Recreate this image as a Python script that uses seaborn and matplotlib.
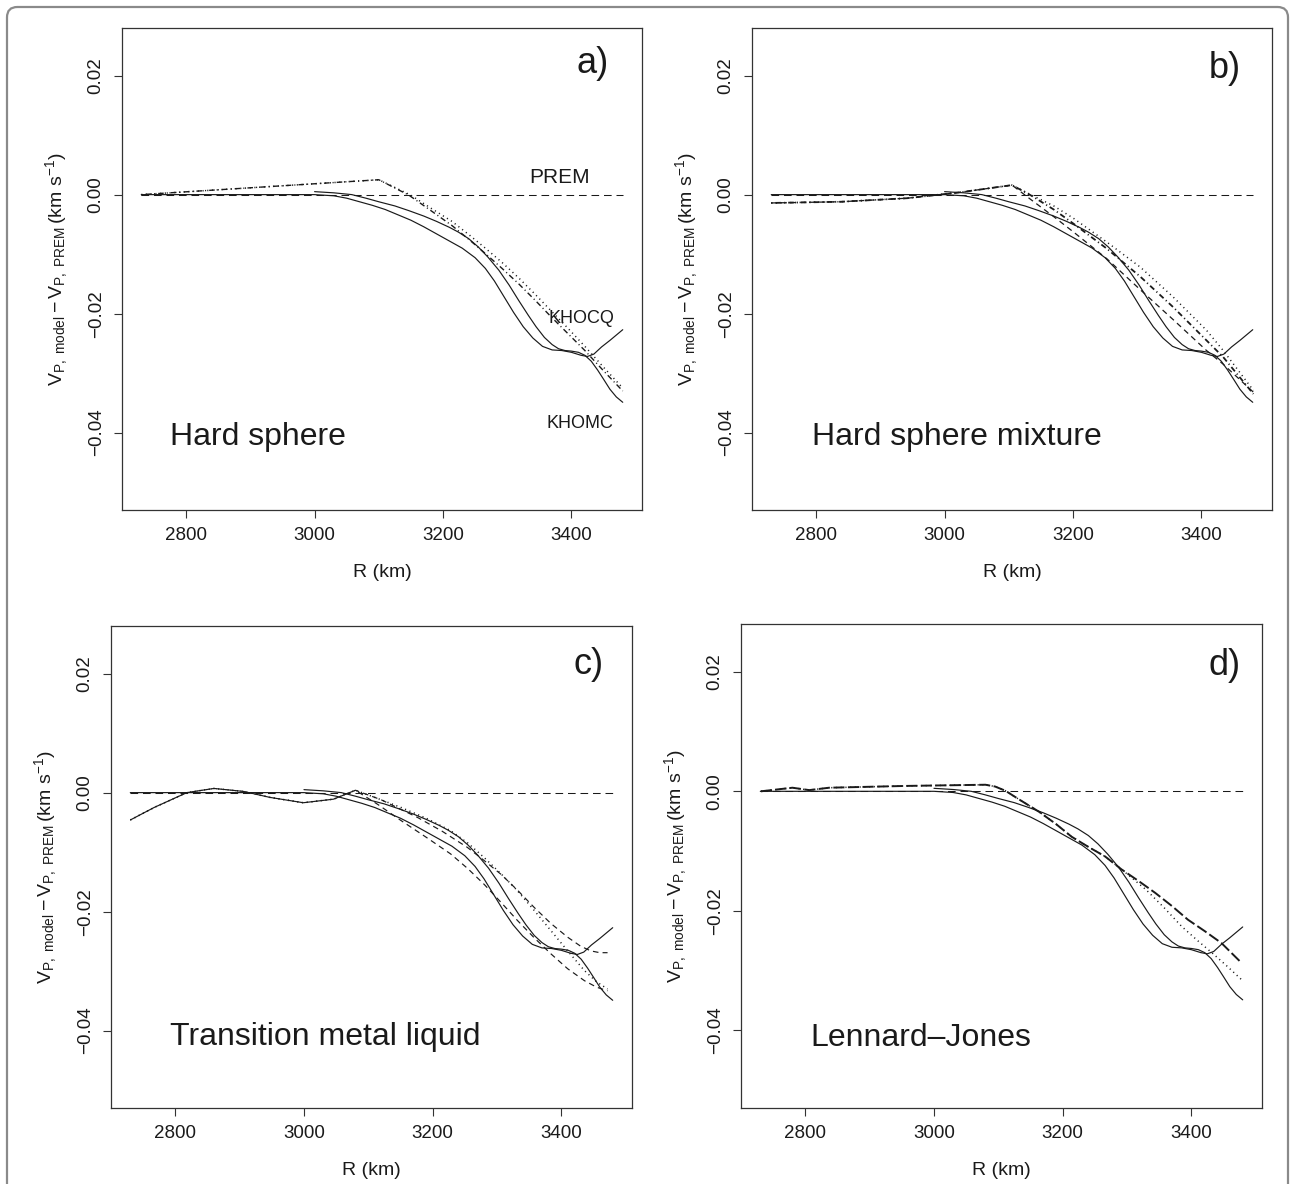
import numpy as np
import pandas as pd
import matplotlib
matplotlib.use("Agg")
import matplotlib.pyplot as plt
import seaborn as sns
from matplotlib.patches import FancyBboxPatch

sns.set_theme(style="ticks")
plt.rcParams['font.family'] = ['Liberation Sans', 'DejaVu Sans']
plt.rcParams['mathtext.fontset'] = 'custom'
plt.rcParams['mathtext.rm'] = 'Liberation Sans'
plt.rcParams['mathtext.it'] = 'Liberation Sans:italic'
plt.rcParams['mathtext.bf'] = 'Liberation Sans:bold'
plt.rcParams['lines.scale_dashes'] = False

# ---------------- data ----------------
prem_r = [2730, 3480]
prem_v = [0.0, 0.0]

khocq_r = [2730, 2800, 2900, 3000, 3030, 3050, 3070, 3090, 3110, 3130, 3150, 3170, 3190,
           3210, 3230, 3250, 3266, 3280, 3297, 3310, 3325, 3340, 3355, 3370, 3385, 3400,
           3415, 3425, 3435, 3447, 3460, 3480]
khocq_v = [0.0, 0.0, 0.0, 0.0, -0.0002, -0.0006, -0.0012, -0.0018, -0.0025, -0.0034,
           -0.0043, -0.0054, -0.0066, -0.0078, -0.0090, -0.0106, -0.0124, -0.0145, -0.0175,
           -0.0198, -0.0222, -0.0241, -0.0255, -0.0261, -0.0262, -0.0265, -0.0270, -0.0272,
           -0.0268, -0.0256, -0.0245, -0.0227]

khomc_r = [3000, 3030, 3058, 3080, 3100, 3125, 3147, 3170, 3190, 3210, 3224, 3240, 3255,
           3270, 3287, 3303, 3318, 3333, 3345, 3358, 3370, 3380, 3390, 3400, 3411, 3421,
           3431, 3441, 3450, 3460, 3470, 3480]
khomc_v = [0.0005, 0.0003, 0.0, -0.0006, -0.0012, -0.0019, -0.0027, -0.0036, -0.0045,
           -0.0055, -0.0063, -0.0074, -0.0088, -0.0105, -0.0127, -0.0152, -0.0178, -0.0203,
           -0.0222, -0.0240, -0.0252, -0.0259, -0.0262, -0.0263, -0.0265, -0.0270, -0.0280,
           -0.0295, -0.0310, -0.0327, -0.0340, -0.0349]

# panel a: hard sphere
a_dotdash_r = [2730, 3100, 3147, 3180, 3214, 3240, 3266, 3292, 3318, 3344, 3369, 3395, 3421, 3450, 3480]
a_dotdash_v = [0.0, 0.0025, -0.0001, -0.0026, -0.0052, -0.0075, -0.0099, -0.0124, -0.0150,
               -0.0178, -0.0206, -0.0234, -0.0262, -0.0296, -0.0330]
a_dot_r = [2730, 3100, 3150, 3180, 3214, 3240, 3266, 3292, 3318, 3344, 3369, 3395, 3421, 3450, 3480]
a_dot_v = [0.0, 0.0025, -0.0001, -0.0022, -0.0045, -0.0067, -0.0090, -0.0114, -0.0140,
           -0.0168, -0.0196, -0.0225, -0.0255, -0.0290, -0.0325]

# panel b: hard sphere mixture
b_dotdash_r = [2730, 2838, 2942, 3025, 3105, 3134, 3170, 3201, 3253, 3305, 3356, 3408, 3434, 3481]
b_dotdash_v = [-0.0014, -0.0012, -0.0006, 0.0004, 0.0016, -0.0001, -0.0025, -0.0049, -0.0091,
               -0.0138, -0.0189, -0.0245, -0.0273, -0.0335]
b_dash_r = [2730, 2838, 2942, 3025, 3105, 3134, 3170, 3201, 3253, 3305, 3356, 3408, 3434, 3481]
b_dash_v = [-0.0014, -0.0012, -0.0006, 0.0004, 0.0016, -0.0008, -0.0037, -0.0063, -0.0108,
            -0.0160, -0.0210, -0.0262, -0.0285, -0.0332]
b_dot_r = [2730, 2838, 2942, 3025, 3105, 3134, 3170, 3201, 3253, 3305, 3356, 3408, 3434, 3481]
b_dot_v = [-0.0014, -0.0012, -0.0006, 0.0004, 0.0016, 0.0000, -0.0019, -0.0040, -0.0080,
           -0.0122, -0.0172, -0.0228, -0.0262, -0.0329]

# panel c: transition metal liquid
c_dot_r = [2730, 2767, 2818, 2860, 2906, 2947, 2999, 3046, 3080, 3115, 3151, 3190, 3228,
           3255, 3280, 3306, 3332, 3358, 3384, 3410, 3436, 3455, 3472]
c_dot_v = [-0.0046, -0.0025, 0.0, 0.0007, 0.0002, -0.0008, -0.0017, -0.0011, 0.0004,
           -0.0010, -0.0025, -0.0043, -0.0064, -0.0085, -0.0109, -0.0136, -0.0165, -0.0198,
           -0.0232, -0.0266, -0.0299, -0.0318, -0.0330]
c_dashA_r = [2730, 2767, 2818, 2860, 2906, 2947, 2999, 3046, 3080, 3120, 3177, 3215, 3254,
             3280, 3306, 3332, 3358, 3384, 3410, 3430, 3446, 3460, 3472]
c_dashA_v = [-0.0046, -0.0025, 0.0, 0.0007, 0.0002, -0.0008, -0.0017, -0.0011, 0.0004,
             -0.0012, -0.0042, -0.0065, -0.0092, -0.0114, -0.0137, -0.0164, -0.0193, -0.0220,
             -0.0243, -0.0258, -0.0266, -0.0269, -0.0269]
c_dashB_r = [2730, 2767, 2818, 2860, 2906, 2947, 2999, 3046, 3080, 3115, 3151, 3190, 3228,
             3255, 3280, 3306, 3332, 3358, 3384, 3410, 3436, 3455, 3472]
c_dashB_v = [-0.0046, -0.0025, 0.0, 0.0007, 0.0002, -0.0008, -0.0017, -0.0011, 0.0004,
             -0.0020, -0.0047, -0.0075, -0.0103, -0.0128, -0.0154, -0.0184, -0.0215, -0.0244,
             -0.0271, -0.0296, -0.0316, -0.0327, -0.0333]

# panel d: Lennard-Jones
d_long_r = [2731, 2780, 2806, 2837, 2956, 3080, 3095, 3111, 3130, 3145, 3163, 3190, 3214,
            3240, 3266, 3292, 3318, 3344, 3370, 3395, 3421, 3447, 3478]
d_long_v = [0.0, 0.0006, 0.0002, 0.0006, 0.0009, 0.0011, 0.0008, 0.0001, -0.0012, -0.0022,
            -0.0034, -0.0055, -0.0076, -0.0093, -0.0109, -0.0131, -0.0150, -0.0170, -0.0192,
            -0.0215, -0.0234, -0.0254, -0.0287]
d_dot_r = [2731, 2780, 2806, 2837, 2956, 3080, 3095, 3111, 3130, 3145, 3163, 3190, 3214,
           3240, 3266, 3292, 3310, 3330, 3358, 3385, 3410, 3433, 3455, 3478]
d_dot_v = [0.0, 0.0006, 0.0002, 0.0006, 0.0009, 0.0011, 0.0008, 0.0001, -0.0012, -0.0022,
           -0.0034, -0.0055, -0.0076, -0.0093, -0.0109, -0.0131, -0.0147, -0.0165, -0.0195,
           -0.0226, -0.0250, -0.0271, -0.0292, -0.0315]

x_ticks = [2800, 3000, 3200, 3400]
y_ticks = [0.02, 0.00, -0.02, -0.04]
panel_letters = ["a)", "b)", "c)", "d)"]
panel_names = ["Hard sphere", "Hard sphere mixture", "Transition metal liquid", "Lennard\u2013Jones"]

# ---------------- styles ----------------
INK = "#1a1a1a"
S_SOLID = "-"
S_PREM = (0, (5.5, 3.5))
S_DOT = (0, (0.8, 2.6))
S_DOTDASH = (0, (0.8, 2.2, 4.0, 2.2))
S_DASH = (0, (4.0, 3.0))
S_DASH_OFF = (3.5, (4.0, 3.0))
S_LONG = (0, (8.0, 2.5))

W, H = 1294, 1184
fig = plt.figure(figsize=(W / 100, H / 100), dpi=100, facecolor="white")

# outer rounded frame
frame = FancyBboxPatch((7 / W, -20 / H), 1281 / W, (1184 - 7 + 20) / H,
                       boxstyle="round,pad=0,rounding_size=0.008",
                       mutation_aspect=W / H, transform=fig.transFigure,
                       facecolor="none", edgecolor="#8a8a8a", linewidth=1.6, zorder=0)
fig.patches.append(frame)

boxes = [(122, 28, 642, 510), (752, 28, 1272, 510),
         (111, 626, 632, 1108), (741, 624, 1262, 1108)]
axes = []
for (x0, y0, x1, y1) in boxes:
    ax = fig.add_axes([x0 / W, 1 - y1 / H, (x1 - x0) / W, (y1 - y0) / H])
    axes.append(ax)


def draw(ax, r, v, ls, lw=0.85):
    df = pd.DataFrame({"R": r, "v": v})
    sns.lineplot(data=df, x="R", y="v", ax=ax, color=INK, linewidth=lw,
                 linestyle=ls, sort=False, estimator=None)


for ax in axes:
    draw(ax, prem_r, prem_v, S_PREM, 0.75)
    draw(ax, khocq_r, khocq_v, S_SOLID)
    draw(ax, khomc_r, khomc_v, S_SOLID)

# panel-specific models
draw(axes[0], a_dotdash_r, a_dotdash_v, S_DOTDASH, 1.0)
draw(axes[0], a_dot_r, a_dot_v, S_DOT, 1.1)

draw(axes[1], b_dotdash_r, b_dotdash_v, S_DOTDASH, 1.3)
draw(axes[1], b_dash_r, b_dash_v, S_DASH, 0.9)
draw(axes[1], b_dot_r, b_dot_v, S_DOT, 1.1)

draw(axes[2], c_dot_r, c_dot_v, S_DOT, 1.1)
draw(axes[2], c_dashA_r, c_dashA_v, S_DASH, 0.85)
draw(axes[2], c_dashB_r, c_dashB_v, S_DASH_OFF, 0.85)

draw(axes[3], d_long_r, d_long_v, S_LONG, 1.4)
draw(axes[3], d_dot_r, d_dot_v, S_DOT, 1.1)

ylabel = r'$\mathrm{V}_{\mathrm{P,\ model}} - \mathrm{V}_{\mathrm{P,\ PREM}}\,(\mathrm{km\ s}^{-1})$'
letter_pos = [(0.906, 0.927), (0.910, 0.917), (0.916, 0.921), (0.929, 0.915)]
name_pos = [(0.092, 0.151), (0.115, 0.151), (0.113, 0.147), (0.134, 0.145)]

for i, ax in enumerate(axes):
    ax.set_xlim(2700, 3510)
    ax.set_ylim(-0.053, 0.028)
    ax.set_xticks(x_ticks)
    ax.set_xticklabels([str(t) for t in x_ticks])
    ax.set_yticks(y_ticks)
    ax.set_yticklabels([f"{t:.2f}".replace("-", "\u2212") for t in y_ticks])
    for lab in ax.get_yticklabels():
        lab.set_rotation(90)
        lab.set_va("center")
    ax.tick_params(direction="out", length=5.5, width=0.8, color="#333333",
                   labelsize=13.5, pad=7, labelcolor=INK)
    for sp in ax.spines.values():
        sp.set_visible(True)
        sp.set_linewidth(0.9)
        sp.set_color("#333333")
    ax.set_facecolor("white")
    ax.grid(False)
    ax.set_xlabel("R (km)", fontsize=14, color=INK)
    ax.set_ylabel(ylabel, fontsize=14, color=INK)
    ax.xaxis.set_label_coords(0.5, -0.112)
    ax.yaxis.set_label_coords(-0.100, 0.5)
    ax.text(letter_pos[i][0], letter_pos[i][1], panel_letters[i], transform=ax.transAxes,
            ha="center", va="center", fontsize=26, color=INK)
    ax.text(name_pos[i][0], name_pos[i][1], panel_names[i], transform=ax.transAxes,
            ha="left", va="center", fontsize=23, color=INK)

axes[0].text(3381, 0.0029, "PREM", ha="center", va="center", fontsize=15, color=INK)
axes[0].text(3416, -0.0208, "KHOCQ", ha="center", va="center", fontsize=13, color=INK)
axes[0].text(3414, -0.0384, "KHOMC", ha="center", va="center", fontsize=13, color=INK)

fig.savefig("out.png", dpi=100, facecolor="white")
